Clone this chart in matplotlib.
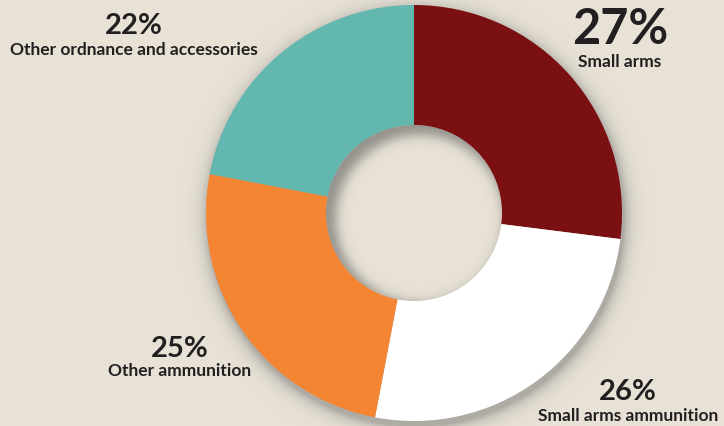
import numpy as np
import matplotlib
matplotlib.use('Agg')
import matplotlib.pyplot as plt
from matplotlib.patches import Circle

# Data
categories = ['Small arms', 'Small arms ammunition', 'Other ammunition', 'Other ordnance and accessories']
shares = [27, 26, 25, 22]
colors = ['#7a1012', '#ffffff', '#f48533', '#62b7ae']

bg = '#e8e2d6'
W, H = 724, 426
cx, cy = 414, 213      # pie centre (data coords, y up)
R_out, R_in = 208, 88

fig = plt.figure(figsize=(7.24, 4.26), dpi=100, facecolor=bg)
ax = fig.add_axes([0, 0, 1, 1])
ax.set_facecolor(bg)

# soft drop shadow behind the ring
yy, xx = np.mgrid[0:H, 0:W]
py = H - yy - 0.5
px = xx + 0.5
d = np.hypot(px - (cx + 2), py - (cy - 5))
a_out = 0.4 * np.exp(-np.clip(d - R_out, 0, None) / 7.0)
a_out[d < R_out] = 0.4
shadow = np.zeros((H, W, 4))
shadow[..., :3] = 0.35
shadow[..., 3] = a_out
ax.imshow(shadow, extent=(0, W, 0, H), origin='upper', zorder=1, interpolation='bilinear')

wedges, _ = ax.pie(shares, colors=colors, startangle=90, counterclock=False,
                   radius=R_out, center=(cx, cy),
                   wedgeprops=dict(linewidth=0))
for w in wedges:
    w.set_zorder(2)

# hole with inner shadow
hole = Circle((cx, cy), R_in, facecolor=bg, edgecolor='none', zorder=3)
ax.add_patch(hole)
d_in = np.hypot(px - (cx + 6), py - (cy - 6))
a_in = 0.55 / (1 + np.exp(-(d_in - (R_in - 4)) / 3.5))
inner = np.zeros((H, W, 4))
inner[..., :3] = 0.3
inner[..., 3] = a_in
im = ax.imshow(inner, extent=(0, W, 0, H), origin='upper', zorder=4, interpolation='bilinear')
clip = Circle((cx, cy), R_in, transform=ax.transData)
im.set_clip_path(clip)

ax.set_xlim(0, W)
ax.set_ylim(0, H)
ax.set_aspect('equal')
ax.axis('off')

font = 'Lato'
txt = '#231f20'
# (x, y of percent, size of percent, y of label) in pixel coords from top
label_pos = [
    (620, 29, 35, 62),
    (628, 392, 21, 416),
    (180, 349, 21, 371),
    (134, 26, 21, 50),
]
for (x, yp, fs, yl), cat, s in zip(label_pos, categories, shares):
    ax.text(x, H - yp, f'{s}%', ha='center', va='center', fontsize=fs,
            fontweight='bold', color=txt, family=font, zorder=5)
    ax.text(x, H - yl, cat, ha='center', va='center', fontsize=12.5,
            fontweight='bold', color=txt, family=font, zorder=5)

fig.savefig('out.png', dpi=100, facecolor=bg)
